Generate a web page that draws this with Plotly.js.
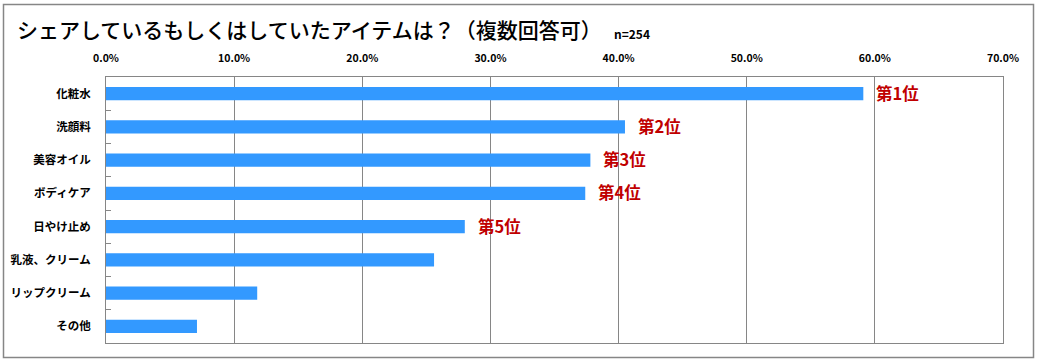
<!DOCTYPE html>
<html>
<head>
<meta charset="utf-8">
<script src="https://cdn.plot.ly/plotly-3.0.1.min.js"></script>
<style>
html,body{margin:0;padding:0;background:#fff;}
#chart{width:1040px;height:362px;}
</style>
</head>
<body>
<div id="chart"></div>
<script>
var categories = ['化粧水','洗顔料','美容オイル','ボディケア','日やけ止め','乳液、クリーム','リップクリーム','その他'];
var values = [0.591, 0.405, 0.378, 0.374, 0.280, 0.256, 0.118, 0.071];
var rankLabels = ['第1位','第2位','第3位','第4位','第5位','','',''];
var xTickVals = [0,0.1,0.2,0.3,0.4,0.5,0.6,0.7];
var xTickText = ['0.0%','10.0%','20.0%','30.0%','40.0%','50.0%','60.0%','70.0%'];
var titleText = 'シェアしているもしくはしていたアイテムは？（複数回答可）';
var noteText = 'n=254';

var FONT = '"Noto Sans CJK JP", "Noto Sans", sans-serif';
var gray = '#868686';

var trace = {
  type: 'bar',
  orientation: 'h',
  x: values,
  y: categories,
  marker: {color: '#3399ff', line: {width: 0}},
  hoverinfo: 'x+y'
};

var annotations = [];
for (var i = 0; i < categories.length; i++) {
  if (!rankLabels[i]) continue;
  annotations.push({
    x: values[i], y: categories[i], xref: 'x', yref: 'y',
    text: rankLabels[i], showarrow: false,
    xanchor: 'left', yanchor: 'middle', xshift: 11, yshift: 1,
    font: {family: FONT, size: 16.5, color: '#c00000', weight: 'bold'}
  });
}
annotations.push({
  xref: 'paper', yref: 'paper', x: 0.564, y: 1.165,
  xanchor: 'left', yanchor: 'middle', showarrow: false,
  text: noteText,
  font: {family: FONT, size: 12, color: '#000', weight: 'bold'}
});

var PW = 897, PH = 266, L = 106, T = 77;
function px(xp){ return (xp - L) / PW; }
function py(yp){ return (T + PH - yp) / PH; }

var layout = {
  width: 1040, height: 362,
  margin: {l: 106, r: 37, t: 77, b: 19, pad: 0},
  paper_bgcolor: '#fff', plot_bgcolor: '#fff',
  showlegend: false,
  bargap: 0.6,
  title: {
    text: titleText, xref: 'container', yref: 'container',
    x: 17/1040, xanchor: 'left', y: 1 - 31/362, yanchor: 'middle',
    font: {family: FONT, size: 21, color: '#000', weight: 500}
  },
  xaxis: {
    side: 'top', range: [0, 0.7],
    tickvals: xTickVals, ticktext: xTickText,
    showgrid: true, gridcolor: gray, gridwidth: 1,
    showline: true, linecolor: gray, linewidth: 1, mirror: true,
    zeroline: false, ticks: '', ticklabelstandoff: 10,
    tickfont: {family: FONT, size: 10.5, color: '#000', weight: 'bold'},
    fixedrange: true
  },
  yaxis: {
    type: 'category', autorange: 'reversed',
    showgrid: false, zeroline: false,
    showline: true, linecolor: gray, linewidth: 1, mirror: true,
    ticks: 'inside', tickson: 'boundaries', ticklen: 5, tickcolor: gray, tickwidth: 1,
    ticklabelstandoff: 12,
    tickfont: {family: FONT, size: 11.5, color: '#000', weight: 'bold'},
    fixedrange: true
  },
  annotations: annotations,
  shapes: [{
    type: 'rect', xref: 'paper', yref: 'paper', layer: 'below',
    x0: px(3.5), x1: px(1033.5), y0: py(357.5), y1: py(4.5),
    line: {color: gray, width: 1.5}, fillcolor: 'rgba(0,0,0,0)'
  }]
};

Plotly.newPlot('chart', [trace], layout, {displayModeBar: false, staticPlot: true});
</script>
</body>
</html>
